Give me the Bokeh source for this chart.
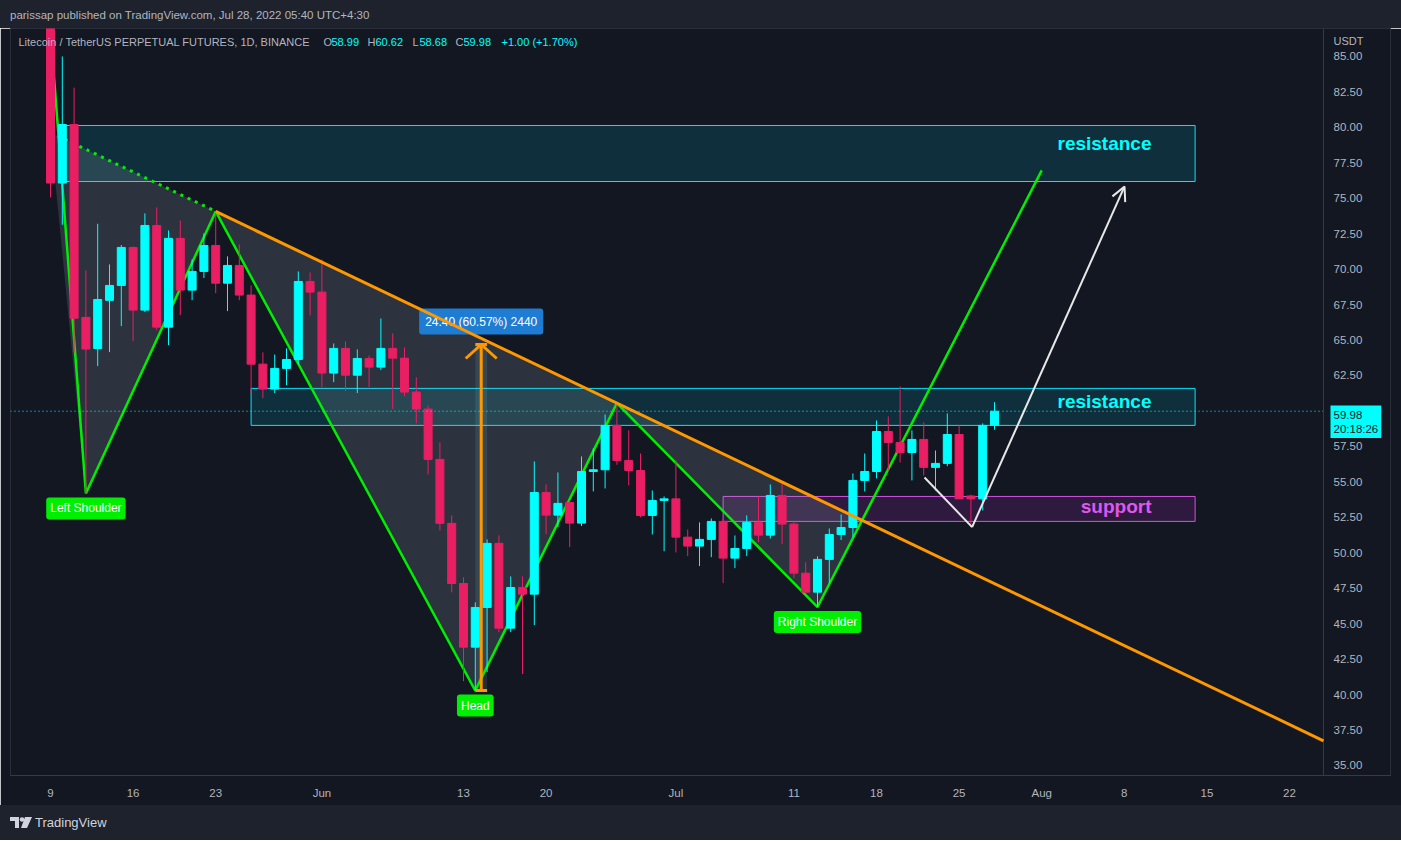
import pandas as pd
from bokeh.plotting import figure
from bokeh.layouts import column
from bokeh.models import (ColumnDataSource, FixedTicker, Label, Arrow, OpenHead,
                          Div, Range1d, NumeralTickFormatter, Span)
from bokeh.embed import file_html
from bokeh.resources import INLINE

# ---------------- data ----------------
dates = pd.date_range("2022-05-09", "2022-07-28", freq="D")
opens = [90.50, 76.07, 80.20, 66.60, 64.40, 67.80, 68.85, 71.53, 67.11, 73.08,
         65.91, 72.17, 68.52, 69.84, 71.67, 69.01, 70.26, 68.17, 63.30, 61.54,
         63.00, 63.63, 69.13, 68.38, 62.67, 64.41, 62.52, 63.70, 63.09, 64.41,
         63.72, 61.33, 60.13, 56.58, 52.07, 47.83, 43.34, 46.14, 50.66, 44.68,
         47.55, 47.08, 54.25, 52.65, 53.55, 52.09, 55.73, 55.85, 58.98, 56.51,
         55.80, 52.63, 53.69, 53.80, 51.10, 50.47, 50.94, 52.21, 49.62, 50.30,
         52.14, 51.24, 54.04, 52.02, 48.56, 47.22, 49.53, 51.29, 51.78, 55.10,
         55.73, 58.55, 57.78, 57.07, 57.99, 56.02, 56.30, 58.34, 54.00, 53.80,
         58.99]
highs = [91.60, 85.00, 82.80, 69.90, 73.20, 70.33, 71.70, 71.60, 73.93, 74.35,
         72.73, 73.43, 70.68, 72.52, 74.07, 70.90, 71.74, 68.85, 64.13, 63.98,
         64.41, 69.84, 69.77, 70.68, 64.76, 64.90, 64.34, 63.91, 66.52, 65.47,
         64.48, 62.38, 60.39, 57.78, 52.63, 48.26, 46.50, 50.94, 51.22, 48.33,
         48.33, 56.44, 54.82, 55.66, 53.70, 56.79, 57.36, 59.75, 60.60, 58.63,
         57.00, 54.39, 53.97, 56.51, 51.64, 52.14, 52.42, 52.40, 51.22, 52.63,
         53.97, 54.82, 55.03, 52.20, 49.32, 49.74, 51.71, 52.70, 55.59, 57.00,
         59.33, 59.61, 61.73, 58.63, 59.19, 57.21, 59.82, 58.98, 54.10, 59.12,
         60.62]
lows = [75.06, 73.13, 64.10, 54.20, 63.16, 64.15, 65.98, 64.92, 66.97, 65.70,
        64.64, 66.76, 67.81, 69.37, 68.31, 67.04, 67.81, 61.20, 60.90, 61.26,
        61.82, 63.30, 66.73, 61.68, 62.03, 61.40, 61.26, 61.68, 62.88, 60.13,
        61.04, 59.14, 55.52, 51.57, 47.20, 40.94, 40.28, 41.58, 44.40, 44.40,
        41.44, 44.90, 51.31, 51.81, 50.40, 51.88, 54.32, 54.53, 56.20, 54.75,
        52.50, 51.29, 50.11, 50.02, 49.76, 49.06, 49.69, 47.86, 48.91, 49.76,
        50.75, 51.00, 50.61, 48.21, 47.20, 46.17, 47.86, 50.90, 51.10, 54.32,
        55.24, 55.80, 56.37, 55.10, 55.45, 54.39, 56.10, 53.83, 51.85, 52.98,
        58.68]
closes = [76.07, 80.20, 66.54, 64.36, 67.86, 68.85, 71.53, 67.11, 73.08, 65.91,
          72.17, 68.52, 69.84, 71.67, 69.01, 70.26, 68.17, 63.30, 61.54, 63.00,
          63.63, 69.13, 68.38, 62.67, 64.41, 62.52, 63.70, 63.09, 64.41, 63.72,
          61.33, 60.13, 56.58, 52.07, 47.83, 43.34, 46.14, 50.66, 44.68, 47.55,
          47.08, 54.25, 52.65, 53.48, 52.09, 55.73, 55.85, 58.98, 56.51, 55.80,
          52.63, 53.69, 53.80, 51.10, 50.47, 50.94, 52.21, 49.62, 50.30, 52.14,
          51.24, 54.04, 52.02, 48.56, 47.22, 49.53, 51.29, 51.78, 55.10, 55.73,
          58.55, 57.78, 57.07, 57.99, 56.02, 56.30, 58.34, 53.80, 53.80, 58.98,
          59.98]

date_ticks = ["2022-05-09", "2022-05-16", "2022-05-23", "2022-06-01", "2022-06-13",
              "2022-06-20", "2022-07-01", "2022-07-11", "2022-07-18", "2022-07-25",
              "2022-08-01", "2022-08-08", "2022-08-15", "2022-08-22"]
date_tick_labels = ["9", "16", "23", "Jun", "13", "20", "Jul", "11", "18", "25",
                    "Aug", "8", "15", "22"]
price_ticks = [35.0, 37.5, 40.0, 42.5, 45.0, 47.5, 50.0, 52.5, 55.0, 57.5,
               62.5, 65.0, 67.5, 70.0, 72.5, 75.0, 77.5, 80.0, 82.5, 85.0]

# head & shoulders: start, left shoulder, left neck, head, right neck, right shoulder, end
hs_dates = ["2022-05-09", "2022-05-12", "2022-05-23", "2022-06-14", "2022-06-26",
            "2022-07-13", "2022-08-01"]
hs_prices = [86.8, 54.18, 74.07, 40.28, 60.55, 46.17, 76.96]

# zones
zone_names = ["resistance", "resistance", "support"]
zone_start = ["2022-05-10", "2022-05-26", "2022-07-05"]
zone_end = ["2022-08-14", "2022-08-14", "2022-08-14"]
zone_top = [80.13, 61.59, 53.97]
zone_bottom = [76.18, 58.98, 52.21]

# price-range measurement
range_start, range_end = "2022-06-14", "2022-06-15"
range_low, range_high = 40.285, 64.685

# projection arrow (days after 2022-05-09, price)
proj_days = [74.07, 78.10, 91.02]
proj_prices = [55.31, 51.81, 75.83]

# ---------------- helpers ----------------
t0 = dates[0]
def dnum(s):
    return (pd.Timestamp(s) - t0).days

xs = [(d - t0).days for d in dates]
tick_x = [dnum(s) for s in date_ticks]

X_LO, X_SEP = -3.39, 107.88          # chart area (price scale starts at X_SEP)
Y_LO, Y_HI = 34.29, 86.97
PXD = 1313 / (X_SEP - X_LO)          # px per day
PXP = 747 / (Y_HI - Y_LO)            # px per price unit
X_HI = X_LO + 1380 / PXD             # frame also covers the price-scale strip
def sx(px):
    return X_LO + (px - 10) / PXD
def sy(py):
    return Y_HI - (py - 28) / PXP

BG = "#131722"
OUTER = "#1e222d"
GREY = "#b2b5be"
CYAN = "#00ffff"
PINK = "#e91e63"
GREEN = "#00ee00"
ORANGE = "#ff9800"
FONT = "Liberation Sans"

fig = figure(width=1401, height=777, x_range=Range1d(X_LO, X_HI), y_range=Range1d(Y_LO, Y_HI),
             output_backend="svg", toolbar_location=None, y_axis_location="right",
             min_border_left=10, min_border_right=11, min_border_top=0, min_border_bottom=30,
             background_fill_color=BG, border_fill_color=BG, outline_line_color="#2a2e39")
fig.grid.visible = False

fig.xaxis.ticker = FixedTicker(ticks=tick_x)
fig.xaxis.major_label_overrides = {t: lab for t, lab in zip(tick_x, date_tick_labels)}
fig.yaxis.ticker = FixedTicker(ticks=price_ticks)
fig.yaxis.formatter = NumeralTickFormatter(format="0.00")
for ax in (fig.xaxis[0], fig.yaxis[0]):
    ax.major_tick_line_color = None
    ax.minor_tick_line_color = None
    ax.major_tick_out = 0
    ax.major_tick_in = 0
    ax.major_label_text_color = GREY
    ax.major_label_text_font = FONT
    ax.major_label_text_font_size = "11.5px"
fig.xaxis.axis_line_color = "#363a45"
fig.xaxis.major_label_standoff = 11
fig.yaxis.axis_line_color = None
fig.yaxis.major_label_standoff = -57

# separator between chart and price scale
fig.add_layout(Span(location=X_SEP, dimension="height", line_color="#363a45", line_width=1))

# ---------------- zones ----------------
zl = [dnum(s) for s in zone_start]
zr = [dnum(s) for s in zone_end]
fig.quad(left=zl[:2], right=zr[:2], top=zone_top[:2], bottom=zone_bottom[:2],
         fill_color="#00bcd4", fill_alpha=0.15, line_color="#00e5ff", line_width=1)
fig.quad(left=zl[2:], right=zr[2:], top=zone_top[2:], bottom=zone_bottom[2:],
         fill_color="#9c27b0", fill_alpha=0.2, line_color="#d152e0", line_width=1)

# ---------------- head & shoulders ----------------
hx = [dnum(s) for s in hs_dates]
hy = hs_prices
slope = (hy[4] - hy[2]) / (hx[4] - hx[2])
def neck(x):
    return hy[2] + slope * (x - hx[2])
rs_slope = (hy[6] - hy[5]) / (hx[6] - hx[5])
xi = (hy[2] - slope * hx[2] - hy[5] + rs_slope * hx[5]) / (rs_slope - slope)
fig.patches(xs=[[hx[0], hx[1], hx[2]], [hx[2], hx[3], hx[4]], [hx[4], hx[5], xi]],
            ys=[[neck(hx[0]), hy[1], hy[2]], [hy[2], hy[3], hy[4]], [hy[4], hy[5], neck(xi)]],
            fill_color="#90a4ae", fill_alpha=0.2, line_color=None)
fig.quad(left=[dnum(range_start)], right=[dnum(range_end)], bottom=[range_low], top=[range_high],
         fill_color="#80deea", fill_alpha=0.12, line_color=None)
fig.line([hx[0], hx[2]], [neck(hx[0]), hy[2]], line_color=GREEN, line_width=3, line_dash="3 5")
fig.line(hx, hy, line_color=GREEN, line_width=2.5)

# ---------------- candles ----------------
colors = [CYAN if c >= o else PINK for o, c in zip(opens, closes)]
src = ColumnDataSource(dict(x=xs, high=highs, low=lows,
                            top=[max(o, c) for o, c in zip(opens, closes)],
                            bottom=[min(o, c) for o, c in zip(opens, closes)],
                            color=colors))
fig.segment(x0="x", y0="high", x1="x", y1="low", line_color="color", line_width=1, source=src)
fig.vbar(x="x", width=0.68, top="top", bottom="bottom", fill_color="color",
         line_color="color", line_width=1, source=src)

# current price line
fig.line([X_LO, X_SEP], [closes[-1], closes[-1]], line_color=CYAN, line_width=1, line_dash="1 3")

# ---------------- price range tool ----------------
rmid = (dnum(range_start) + dnum(range_end)) / 2
fig.segment(x0=[rmid], y0=[range_low], x1=[rmid], y1=[range_high], line_color=ORANGE, line_width=3)
fig.segment(x0=[dnum(range_start)] * 2, y0=[range_low, range_high], x1=[dnum(range_end)] * 2,
            y1=[range_low, range_high], line_color=ORANGE, line_width=3)
fig.segment(x0=[rmid - 15.5 / PXD, rmid + 15.5 / PXD], y0=[range_high - 14 / PXP] * 2,
            x1=[rmid, rmid], y1=[range_high, range_high], line_color=ORANGE, line_width=3)
diff = range_high - range_low
fig.add_layout(Label(x=rmid, y=range_high, y_offset=23,
                     text=f"{diff:.2f} ({diff / range_low * 100:.2f}%) {diff * 100:.0f}",
                     text_align="center", text_baseline="middle", text_color="white",
                     text_font=FONT, text_font_size="12px", background_fill_color="#1e7dd2",
                     padding=6, border_radius=3))

# orange trend line (drawn over the measurement label)
fig.add_layout(Arrow(x_start=hx[2], y_start=hy[2], x_end=X_SEP, y_end=neck(X_SEP), end=None,
                     line_color=ORANGE, line_width=3))

# white projection arrow
fig.add_layout(Arrow(x_start=proj_days[0], y_start=proj_prices[0], x_end=proj_days[1],
                     y_end=proj_prices[1], end=None, line_color="#e8e8e8", line_width=2))
fig.add_layout(Arrow(x_start=proj_days[1], y_start=proj_prices[1], x_end=proj_days[2],
                     y_end=proj_prices[2], line_color="#e8e8e8", line_width=2,
                     end=OpenHead(size=14, line_color="#e8e8e8", line_width=2)))

# zone labels
for name, ypx in zip(zone_names, (143, 401, 506)):
    col = CYAN if name == "resistance" else "#e056f0"
    fig.add_layout(Label(x=sx(1151), y=sy(ypx), text=name, text_align="right", text_baseline="middle",
                         text_color=col, text_font=FONT, text_font_style="bold", text_font_size="19px"))

# pattern labels
for name, i in (("Left Shoulder", 1), ("Head", 3), ("Right Shoulder", 5)):
    fig.add_layout(Label(x=hx[i], y=hy[i], y_offset=-15, text=name, text_align="center",
                         text_baseline="middle", text_color="white", text_font=FONT,
                         text_font_size="12px", background_fill_color=GREEN,
                         padding=4, border_radius=3))

# header row
chg = closes[-1] - closes[-2]
pct = chg / closes[-2] * 100
hdr = [("Litecoin / TetherUS PERPETUAL FUTURES, 1D, BINANCE", 18, GREY),
       ("O", 323, GREY), (f"{opens[-1]:.2f}", 331, CYAN),
       ("H", 367, GREY), (f"{highs[-1]:.2f}", 375, CYAN),
       ("L", 412, GREY), (f"{lows[-1]:.2f}", 419, CYAN),
       ("C", 455, GREY), (f"{closes[-1]:.2f}", 463, CYAN),
       (f"{chg:+.2f} ({pct:+.2f}%)", 501, CYAN)]
for txt, px, col in hdr:
    fig.add_layout(Label(x=sx(px), y=sy(41), text=txt, text_align="left", text_baseline="middle",
                         text_color=col, text_font=FONT, text_font_size="11px"))

# price-scale extras
fig.add_layout(Label(x=sx(1333), y=sy(40), text="USDT", text_align="left", text_baseline="middle",
                     text_color=GREY, text_font=FONT, text_font_size="11px"))
fig.add_layout(Label(x=sx(1330), y=sy(405), text=f"{closes[-1]:.2f}\n20:18:26", text_align="left",
                     text_baseline="top", text_color=BG, text_font=FONT, text_font_size="11.5px",
                     background_fill_color=CYAN, padding=3))

header = Div(text="parissap published on TradingView.com, Jul 28, 2022 05:40 UTC+4:30",
             width=1401, height=28, margin=0,
             styles={"background-color": OUTER, "color": GREY, "font-family": FONT,
                     "font-size": "11.5px", "line-height": "31px", "padding-left": "10px",
                     "box-sizing": "border-box"})
logo = ("<svg width='22' height='13' style='vertical-align:-2px;margin-right:3px'>"
        "<path d='M0 1h9v11H5V5H0z' fill='#d1d4dc'/><circle cx='12' cy='3.5' r='2.3' fill='#d1d4dc'/>"
        "<path d='M15 1h7l-5 11h-6z' fill='#d1d4dc'/></svg>")
footer = Div(text=f"{logo}TradingView", width=1401, height=35, margin=0,
             styles={"background-color": OUTER, "color": "#d1d4dc", "font-family": FONT,
                     "font-size": "13px", "line-height": "36px", "padding-left": "10px",
                     "box-sizing": "border-box"})

p = column(header, fig, footer, spacing=0)
open("out.html", "w").write(file_html(p, INLINE, title="LTCUSDT"))
